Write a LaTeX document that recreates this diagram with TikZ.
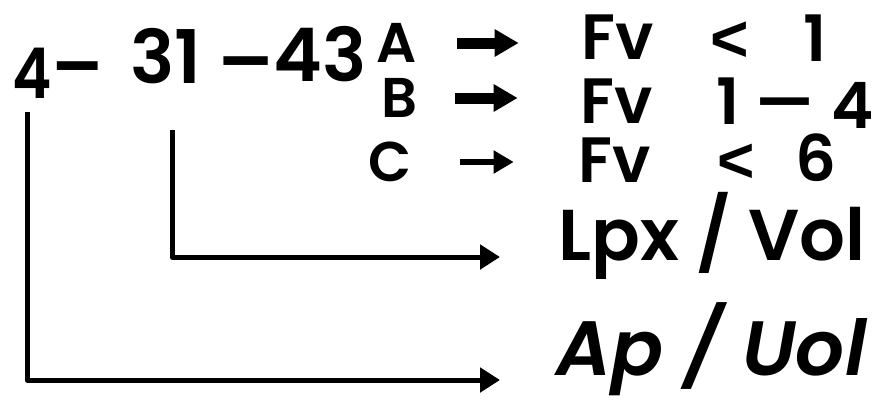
\documentclass[tikz,border=0pt]{standalone}
\usepackage{fontspec}
\setmainfont{Poppins}[BoldFont={Poppins SemiBold}, BoldItalicFont={Poppins SemiBold Italic}]
\newfontfamily\ltfont{Liberation Sans}
\usetikzlibrary{arrows.meta}
\begin{document}
\begin{tikzpicture}[x=1pt,y=-1pt,
  txt/.style={inner sep=0pt, font=\bfseries\fontsize{#1}{#1}\selectfont},
  lt/.style={inner sep=0pt, font=\ltfont\bfseries\fontsize{#1}{#1}\selectfont},
  fat/.style={line width=11pt, -{Triangle[length=24pt,width=26pt]}},
  thin/.style={line width=6pt, -{Triangle[length=20pt,width=22pt]}},
  elbow/.style={line width=5pt, line join=round, -{Triangle[length=20pt,width=24pt]}}]
\useasboundingbox (0,0) rectangle (876,402);
% top code
\node[txt=70, xscale=0.85] (n4) at (32,73) {4};
\node[txt=74, xscale=1.3] (d1) at (79,77) {-};
\node[txt=74] (n31) at (166,56) {31};
\node[txt=74, xscale=1.1] (d2) at (246,72) {–};
\node[txt=74] (n43) at (320,54) {43};
\node[txt=56] (A) at (397,43) {A};
\node[txt=56] (B) at (400,98) {B};
\node[txt=56] (C) at (390,162) {C};
% right column
\node[txt=64] (FvA) at (618,37) {Fv};
\node[lt=66] (lt1) at (730,42) {<};
\node[txt=64] (one1) at (815,38) {1};
\node[txt=64] (FvB) at (617,101) {Fv};
\node[txt=64] (one2) at (728,101) {1};
\node[txt=64, xscale=1.4] (d3) at (785,111) {–};
\node[txt=64] (four2) at (853,105) {4};
\node[txt=64] (FvC) at (615,160) {Fv};
\node[lt=64] (lt2) at (736,163) {<};
\node[txt=64] (six) at (816,158) {6};
\node[txt=72, anchor=base west] (LpxVol) at (558,260) {Lpx / Vol};
\node[anchor=base west, inner sep=0pt, font=\bfseries\itshape\fontsize{77}{77}\selectfont] (ApUol) at (556,375) {Ap / Uol};
% arrows
\draw[fat, shorten <=40pt, shorten >=63pt] (A.east) -- (A.east -| FvA.west);
\draw[fat, shorten <=37pt, shorten >=63pt] (B.east) -- (B.east -| FvB.west);
\draw[thin, shorten <=48pt, shorten >=65pt] (C.east) -- (C.east -| FvC.west);
\draw[elbow] ([xshift=-5pt,yshift=-14pt]n4.south) |- ([xshift=-56pt,yshift=-5pt]ApUol.base west);
\draw[elbow] ([xshift=6pt,yshift=-46pt]n31.south) |- ([xshift=-58pt,yshift=3pt]LpxVol.base west);
\end{tikzpicture}
\end{document}
